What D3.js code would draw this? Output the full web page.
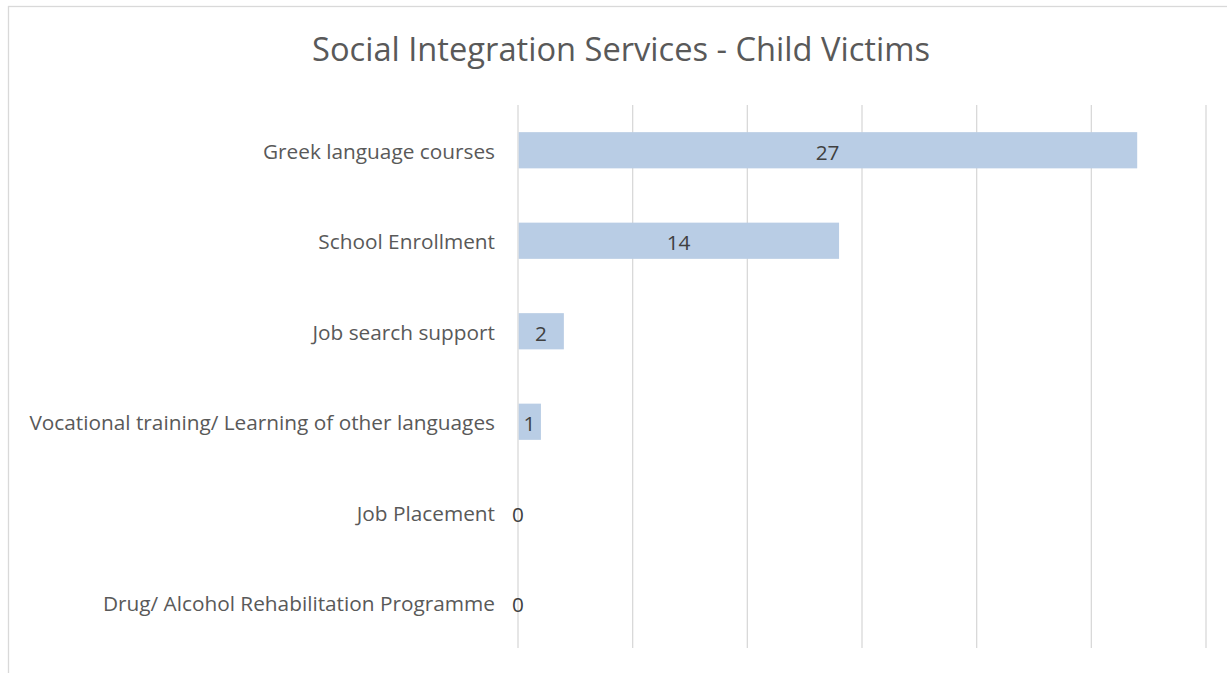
<!DOCTYPE html>
<html><head><meta charset="utf-8">
<script src="https://cdn.jsdelivr.net/npm/d3@7"></script>
<style>body{margin:0;background:#fff;} svg{display:block;}</style>
</head><body>
<svg id="c" width="1227" height="673"></svg>
<script>
const title = "Social Integration Services - Child Victims";
const categories = ["Greek language courses","School Enrollment","Job search support","Vocational training/ Learning of other languages","Job Placement","Drug/ Alcohol Rehabilitation Programme"];
const values = [27,14,2,1,0,0];
const xTicks = [0,5,10,15,20,25,30];

(function(){
const FONT = "'Open Sans', sans-serif";
const svg = d3.select("#c");
svg.append("rect").attr("x",8.5).attr("y",6.5).attr("width",1300).attr("height",1000)
  .attr("fill","#fff").attr("stroke","#d9d9d9").attr("stroke-width",1.3);

const pL = 518, pR = 1206, pT = 105, pB = 648;
const x = d3.scaleLinear().domain([0,30]).range([pL,pR]);
const y = d3.scaleBand().domain(categories).range([pT,pB]).paddingInner(0.6).paddingOuter(0.3);

svg.append("text").attr("x",621).attr("y",61).attr("text-anchor","middle")
  .attr("font-family",FONT).attr("font-size",32.5).attr("textLength",618).attr("lengthAdjust","spacingAndGlyphs")
  .attr("fill","#595959").text(title);

svg.append("g").selectAll("line").data(xTicks).join("line")
  .attr("x1",d=>x(d)).attr("x2",d=>x(d)).attr("y1",pT).attr("y2",pB)
  .attr("stroke","#d9d9d9").attr("stroke-width",1.3);

svg.append("g").selectAll("rect").data(categories).join("rect")
  .attr("x",x(0)+0.7).attr("y",(d)=>y(d))
  .attr("width",(d,i)=>Math.max(0,x(values[i])-x(0)-0.7)).attr("height",y.bandwidth())
  .attr("fill","#b9cde5");

svg.append("g").selectAll("text").data(categories).join("text")
  .attr("x",pL-23).attr("y",d=>y(d)+y.bandwidth()/2).attr("dy","0.4em")
  .attr("text-anchor","end").attr("font-family",FONT).attr("font-size",20.8)
  .attr("textLength",function(){return null;})
  .attr("fill","#595959").text(d=>d);

svg.append("g").selectAll("text").data(categories).join("text")
  .attr("x",(d,i)=>(x(0)+x(values[i]))/2).attr("y",d=>y(d)+y.bandwidth()/2).attr("dy","0.45em")
  .attr("text-anchor","middle").attr("font-family",FONT).attr("font-size",20.8)
  .attr("fill","#404040").text((d,i)=>values[i]);
})();
</script>
</body></html>
